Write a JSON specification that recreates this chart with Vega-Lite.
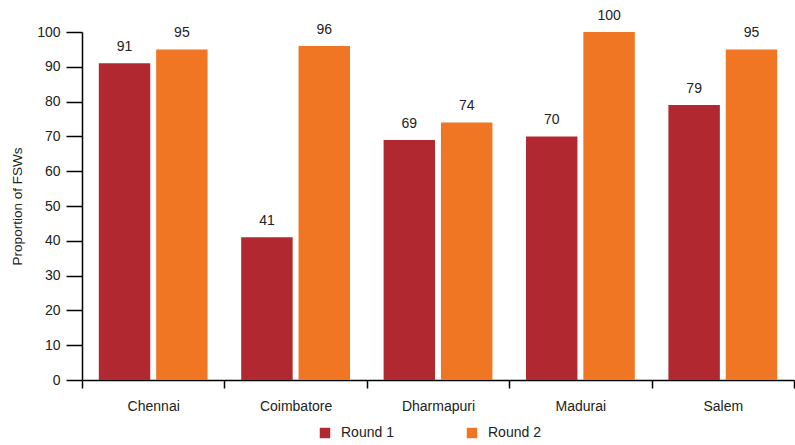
{
  "$schema": "https://vega.github.io/schema/vega-lite/v6.json",
  "autosize": {"type": "none"},
  "width": 712,
  "height": 348,
  "padding": {"left": 82, "top": 32, "right": 1, "bottom": 65},
  "background": "white",
  "config": {
    "font": "Liberation Sans",
    "view": {"stroke": null},
    "axis": {"labelFont": "Liberation Sans", "titleFont": "Liberation Sans", "labelColor": "#222", "titleColor": "#222", "domainColor": "#000", "tickColor": "#000", "grid": false}
  },
  "data": {
    "values": [
      {"city": "Chennai", "round": "Round 1", "value": 91},
      {"city": "Chennai", "round": "Round 2", "value": 95},
      {"city": "Coimbatore", "round": "Round 1", "value": 41},
      {"city": "Coimbatore", "round": "Round 2", "value": 96},
      {"city": "Dharmapuri", "round": "Round 1", "value": 69},
      {"city": "Dharmapuri", "round": "Round 2", "value": 74},
      {"city": "Madurai", "round": "Round 1", "value": 70},
      {"city": "Madurai", "round": "Round 2", "value": 100},
      {"city": "Salem", "round": "Round 1", "value": 79},
      {"city": "Salem", "round": "Round 2", "value": 95}
    ]
  },
  "encoding": {
    "x": {
      "field": "city", "type": "nominal", "sort": null,
      "scale": {"paddingInner": 0, "paddingOuter": 0},
      "axis": {"title": null, "labelAngle": 0, "labelFontSize": 14, "labelPadding": 11, "tickBand": "extent", "tickSize": 8, "tickWidth": 1.5, "domainWidth": 1.5}
    },
    "xOffset": {"field": "round", "type": "nominal", "scale": {"paddingInner": 0.103, "paddingOuter": 0.293}},
    "y": {
      "field": "value", "type": "quantitative",
      "scale": {"domain": [0, 100], "nice": false},
      "axis": {"title": "Proportion of FSWs", "titleFontSize": 13.5, "titleFontWeight": "normal", "titlePadding": 12, "values": [0,10,20,30,40,50,60,70,80,90,100], "labelFontSize": 14, "labelPadding": 6, "tickSize": 16, "tickWidth": 1.5, "domainWidth": 1.5}
    }
  },
  "layer": [
    {
      "mark": {"type": "bar"},
      "encoding": {
        "color": {
          "field": "round", "type": "nominal",
          "scale": {"domain": ["Round 1", "Round 2"], "range": ["#b12830", "#f07623"]},
          "legend": {"title": null, "orient": "none", "legendX": 236, "legendY": 394, "direction": "horizontal", "symbolType": "square", "symbolSize": 110, "symbolStrokeWidth": 0, "labelFontSize": 14, "labelColor": "#222", "columnPadding": 71, "labelOffset": 9}
        }
      }
    },
    {
      "mark": {"type": "text", "baseline": "bottom", "dy": -9, "fontSize": 14, "color": "#222"},
      "encoding": {"text": {"field": "value", "type": "quantitative"}}
    }
  ]
}
